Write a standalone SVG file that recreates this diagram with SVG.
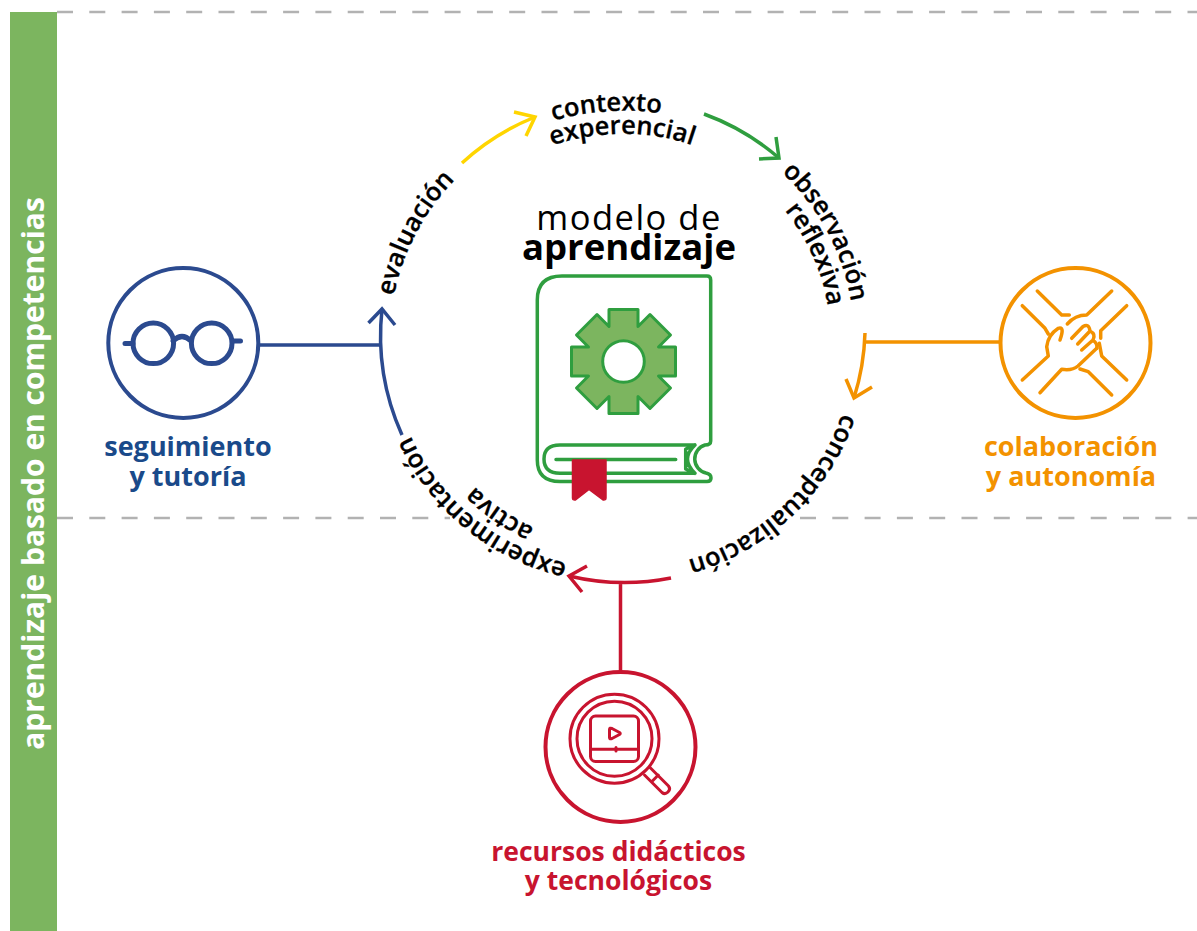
<svg xmlns="http://www.w3.org/2000/svg" width="1197" height="931" viewBox="0 0 1197 931">
<style>
text{font-family:"Open Sans","Noto Sans","Liberation Sans",sans-serif}
.ln{fill:none;stroke-width:3.5;stroke-linecap:butt;stroke-linejoin:miter}
.ic{fill:none;stroke-width:3.5;stroke-linecap:round;stroke-linejoin:round}
.nd{fill:#fff;stroke-width:4}
.dash{stroke:#b2b2b2;stroke-width:2.5;stroke-dasharray:16 16.3;fill:none}
.ring{font-size:25.5px;font-weight:600;fill:#000;text-anchor:middle;stroke:#000;stroke-width:.3px}
.lab{font-size:27px;font-weight:700;text-anchor:middle}
.blue{stroke:#2b4a8f}.org{stroke:#f39200}.red{stroke:#c8142f}.grn{stroke:#2f9e3f}.yel{stroke:#ffd500}
</style>
<defs>
<path id="r1" d="M642 568.1A229 229 0 1 1 602 111.9A229 229 0 1 1 642 568.1"/>
<path id="r2" d="M639.95 545.2A206 206 0 1 1 604.05 134.8A206 206 0 1 1 639.95 545.2"/>
</defs>
<rect id="bar" x="10" y="12" width="47" height="919" fill="#7cb55f"/>
<text transform="translate(44 473.5) rotate(-90)" font-size="30" font-weight="700" fill="#fff" text-anchor="middle">aprendizaje basado en competencias</text>
<g id="guides">
<line class="dash" x1="57" y1="12" x2="1197" y2="12"/>
<line class="dash" x1="57" y1="518" x2="450" y2="518"/>
<line class="dash" x1="800" y1="518" x2="1197" y2="518"/>
</g>
<g id="connectors">
<g class="yel"><path class="ln" d="M462 163A240 240 0 0 1 535 117"/><path class="ln" d="M514 112L535 117L526 136"/></g>
<g class="grn"><path class="ln" d="M704 114A240 240 0 0 1 779 158"/><path class="ln" d="M776 137L779 158L759 159"/></g>
<g class="org"><path class="ln" d="M1000 342H865M865 333A240 240 0 0 1 854 398"/><path class="ln" d="M846 379L854 398L872 387"/></g>
<g class="red"><path class="ln" d="M620.5 672V583M671 578A240 240 0 0 1 569 576"/><path class="ln" d="M587 566L569 576L582 592"/></g>
<g class="blue"><path class="ln" d="M260 345H380M402 435A243 243 0 0 1 382 309"/><path class="ln" d="M368.500 323L382 309L395 325"/></g>
</g>
<g id="ring-labels">
<text class="ring"><textPath href="#r1" startOffset="50.33%">contexto</textPath></text>
<text class="ring"><textPath href="#r2" startOffset="51.39%">experencial</textPath></text>
<text class="ring"><textPath href="#r1" startOffset="68.6%">observación</textPath></text>
<text class="ring"><textPath href="#r2" startOffset="69.72%">reflexiva</textPath></text>
<text class="ring"><textPath href="#r1" startOffset="89.17%">conceptualización</textPath></text>
<text class="ring"><textPath href="#r1" startOffset="12.39%">experimentación</textPath></text>
<text class="ring"><textPath href="#r2" startOffset="11.11%">activa</textPath></text>
<text class="ring"><textPath href="#r1" startOffset="34.03%">evaluación</textPath></text>
</g>
<g id="modelo">
<text x="629" y="229.500" font-size="34.500" font-weight="400" letter-spacing="1.500" text-anchor="middle" fill="#000">modelo de</text>
<text x="629" y="260" font-size="36.500" font-weight="700" text-anchor="middle" fill="#000">aprendizaje</text>
<path class="ic grn" d="M562 276H707Q710.700 276 710.700 280V441Q710.700 445 705 445A14.500 14.500 0 0 0 706 473Q711 474 711 478Q711 481.500 707 481.500H560Q537.300 481.500 537.300 460V300Q537.300 276 562 276Z" fill="#fff"/>
<path class="ic grn" d="M695 445H560Q544 445 544 459Q544 473 560 473.300H695M695 445Q680 459 695 473.300M695 445L685.700 449V469L695 473.300M556 459.500H675.700"/>
<path fill="#c8142f" stroke="#c8142f" stroke-width="1.500" stroke-linejoin="round" d="M572.500 460H606V498Q606 500.500 603 500L589 489.500L575.500 500Q572.500 500.500 572.500 498Z"/>
<g transform="translate(623.5 361.5)">
<path fill="#7cb55f" stroke="#2f9e3f" stroke-width="3" stroke-linejoin="round" d="M14.500 -52L14.500 -35L26.500 -47L47 -26.500L35 -14.500L52 -14.500L52 14.500L35 14.500L47 26.500L26.500 47L14.500 35L14.500 52L-14.500 52L-14.500 35L-26.500 47L-47 26.500L-35 14.500L-52 14.500L-52 -14.500L-35 -14.500L-47 -26.500L-26.500 -47L-14.500 -35L-14.500 -52Z"/>
<circle r="20.800" fill="#fff" stroke="#2f9e3f" stroke-width="3"/>
</g>
</g>
<g id="node-seguimiento">
<circle class="nd blue" cx="183.300" cy="343" r="75"/>
<g class="ic blue" style="stroke-width:5">
<circle cx="153.300" cy="343.300" r="20.300"/><circle cx="211.700" cy="343.300" r="20.300"/>
<path d="M173 341Q182 332 191 341M125 343.500H133M233 341H240.500"/>
</g>
<text class="lab" x="188" y="456" fill="#1a4a8a">seguimiento</text>
<text class="lab" x="188" y="486" fill="#1a4a8a">y tutoría</text>
</g>
<g id="node-colaboracion">
<circle class="nd org" cx="1075.500" cy="343" r="75"/>
<g class="ic org">
<path d="M1037.300 291L1061.700 315H1069.300"/>
<path d="M1022.300 305.700L1045 328.300L1048.300 334"/>
<path d="M1111.700 291L1086.700 315Q1075 315 1067.300 324"/>
<path d="M1126.700 305.700L1100.700 330.700V338.300"/>
<path d="M1126.700 380L1101.700 356L1099.300 343.300"/>
<path d="M1111.700 395L1088.300 371.700L1080 369"/>
<path d="M1040 392.700L1061.700 369.300Q1072 371 1078 366L1096.700 348.300"/>
<path d="M1022.300 380L1048.300 356L1046.700 346.700Q1048 335 1058.300 328.300Q1065 326 1060 340"/>
<path d="M1071.700 338.300L1083 326.500Q1089 323 1090 331L1077.700 344M1090 331Q1096 334 1093 340L1081.700 350M1093 340Q1098 344 1096.700 348.300"/>
</g>
<text class="lab" x="1071" y="456" fill="#f39200">colaboración</text>
<text class="lab" x="1071" y="486" fill="#f39200">y autonomía</text>
</g>
<g id="node-recursos">
<circle class="nd red" cx="620.500" cy="747" r="75"/>
<g class="ic red" style="stroke-width:3">
<circle cx="614.500" cy="738.700" r="44.500"/><circle cx="614.500" cy="738.700" r="37.500"/>
<rect x="590.500" y="716" width="48" height="45.500" rx="5"/>
<path d="M590.500 749.300H638.500M616 747.500V751"/>
<path d="M609.500 729.500Q609.500 727.500 612 728.500L619.500 732.500Q621 733.500 619.500 734.500L612 738.500Q609.500 739.500 609.500 737.500Z"/>
<path d="M649.500 767L668.500 786Q671 789 668 792Q665 795 662 792.500L644.500 775M651.700 781.700L658.300 775"/>
</g>
<text class="lab" x="618.500" y="861" fill="#c8142f" style="font-size:26.500px">recursos didácticos</text>
<text class="lab" x="618.500" y="890" fill="#c8142f" style="font-size:26.500px">y tecnológicos</text>
</g>
</svg>
